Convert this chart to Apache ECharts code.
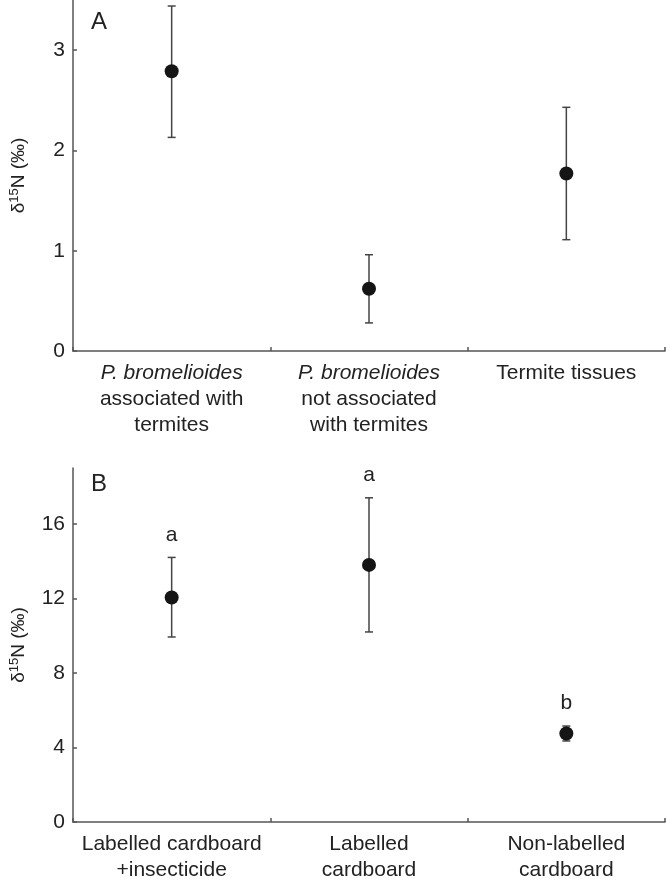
<!DOCTYPE html>
<html>
<head>
<meta charset="utf-8">
<script src="https://cdn.jsdelivr.net/npm/echarts@6/dist/echarts.min.js"></script>
<style>
html,body{margin:0;padding:0;background:#fff;}
#chart{width:666px;height:883px;}
</style>
</head>
<body>
<div id="chart"></div>
<script>
// ---- Data ----
var catsA = ['P. bromelioides\nassociated with\ntermites', 'P. bromelioides\nnot associated\nwith termites', 'Termite tissues'];
var meanA = [2.79, 0.62, 1.77];
var lowA  = [2.13, 0.28, 1.11];
var highA = [3.44, 0.96, 2.43];
var ticksA = [0, 1, 2, 3];

var catsB = ['Labelled cardboard\n+insecticide', 'Labelled\ncardboard', 'Non-labelled\ncardboard'];
var meanB = [12.05, 13.8, 4.75];
var lowB  = [9.93, 10.2, 4.35];
var highB = [14.2, 17.4, 5.15];
var lettersB = ['a', 'a', 'b'];
var ticksB = [0, 4, 8, 12, 16];

// ---- Styles ----
var FONT = 'Liberation Sans, Arial, sans-serif';
var AXIS_COLOR = '#555';
var TEXT_COLOR = '#222';
var FS = 21;

function errData(low, high, letters) {
  return low.map(function (l, i) { return [i, l, high[i], letters ? letters[i] : '']; });
}
function renderErr(params, api) {
  var x = api.value(0);
  var lo = api.coord([x, api.value(1)]);
  var hi = api.coord([x, api.value(2)]);
  var half = 4;
  var st = { stroke: '#444', lineWidth: 1.5 };
  var children = [
    { type: 'line', shape: { x1: lo[0], y1: lo[1], x2: hi[0], y2: hi[1] }, style: st },
    { type: 'line', shape: { x1: lo[0] - half, y1: lo[1], x2: lo[0] + half, y2: lo[1] }, style: st },
    { type: 'line', shape: { x1: hi[0] - half, y1: hi[1], x2: hi[0] + half, y2: hi[1] }, style: st }
  ];
  var letter = api.value(3);
  if (letter) {
    children.push({ type: 'text', style: { text: letter, x: hi[0], y: hi[1] - 12, align: 'center', verticalAlign: 'bottom', font: FS + 'px ' + FONT, fill: TEXT_COLOR } });
  }
  return { type: 'group', children: children };
}

function xAxisCfg(cats, gridIndex) {
  return {
    type: 'category', gridIndex: gridIndex, data: cats,
    boundaryGap: true,
    axisLine: { lineStyle: { color: AXIS_COLOR, width: 1.5 } },
    axisTick: { show: true, inside: true, length: 4, lineStyle: { color: AXIS_COLOR, width: 1.5 } },
    axisLabel: {
      interval: 0, margin: 9, color: TEXT_COLOR, fontFamily: FONT, fontSize: FS, lineHeight: 26,
      formatter: function (v) { return v.replace('P. bromelioides', '{i|P. bromelioides}'); },
      rich: { i: { fontStyle: 'italic', fontFamily: FONT, fontSize: FS, color: TEXT_COLOR, lineHeight: 26 } }
    },
    splitLine: { show: false }
  };
}
function yAxisCfg(gridIndex, max, ticks) {
  return {
    type: 'value', gridIndex: gridIndex, min: 0, max: max,
    name: 'δ{s|15}N (‰)', nameLocation: 'middle', nameGap: 44, nameRotate: 90,
    nameTextStyle: { color: TEXT_COLOR, fontFamily: FONT, fontSize: 19, rich: { s: { fontSize: 13, verticalAlign: 'bottom', padding: [0, 0, 8, 0], fontFamily: FONT, color: TEXT_COLOR } } },
    axisLine: { show: true, lineStyle: { color: AXIS_COLOR, width: 1.5 } },
    axisTick: { show: true, inside: true, length: 4, customValues: ticks, lineStyle: { color: AXIS_COLOR, width: 1.5 } },
    axisLabel: { customValues: ticks, margin: 8, color: TEXT_COLOR, fontFamily: FONT, fontSize: FS },
    splitLine: { show: false }
  };
}

var chart = echarts.init(document.getElementById('chart'), null, { renderer: 'canvas' });
chart.setOption({
  animation: false,
  backgroundColor: '#fff',
  grid: [
    { left: 70, right: 1, top: 0, height: 351 },
    { left: 70, right: 1, top: 468, height: 359 }
  ],
  xAxis: [xAxisCfg(catsA, 0), xAxisCfg(catsB, 1)],
  yAxis: [yAxisCfg(0, 3.5, ticksA), yAxisCfg(1, 19, ticksB)],
  graphic: [
    { type: 'text', left: 91, top: 10, style: { text: 'A', font: '24px ' + FONT, fill: TEXT_COLOR } },
    { type: 'text', left: 91, top: 472, style: { text: 'B', font: '24px ' + FONT, fill: TEXT_COLOR } }
  ],
  series: [
    { type: 'custom', xAxisIndex: 0, yAxisIndex: 0, renderItem: renderErr, data: errData(lowA, highA), z: 2 },
    { type: 'scatter', xAxisIndex: 0, yAxisIndex: 0, data: meanA, symbolSize: 14, itemStyle: { color: '#151515', opacity: 1 }, z: 3 },
    { type: 'custom', xAxisIndex: 1, yAxisIndex: 1, renderItem: renderErr, data: errData(lowB, highB, lettersB), z: 2 },
    { type: 'scatter', xAxisIndex: 1, yAxisIndex: 1, data: meanB, symbolSize: 14, itemStyle: { color: '#151515', opacity: 1 }, z: 3 }
  ]
});
</script>
</body>
</html>
